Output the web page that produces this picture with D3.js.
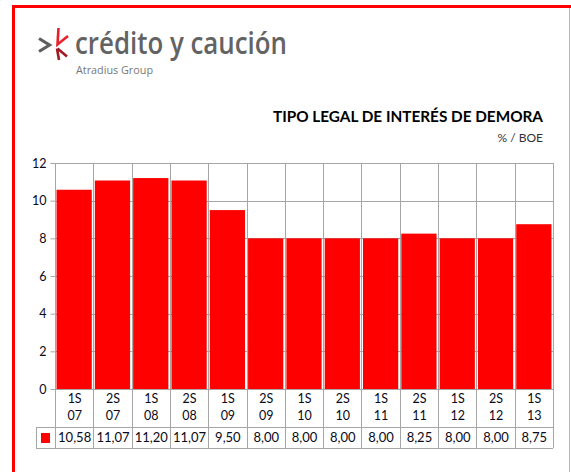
<!DOCTYPE html>
<html><head><meta charset="utf-8">
<script src="https://cdn.jsdelivr.net/npm/d3@7"></script>
<style>html,body{margin:0;padding:0;background:#fff;overflow:hidden}svg{display:block}</style>
</head><body>
<script>
const categories = ["1S 07","2S 07","1S 08","2S 08","1S 09","2S 09","1S 10","2S 10","1S 11","2S 11","1S 12","2S 12","1S 13"];
const values = [10.58, 11.07, 11.20, 11.07, 9.50, 8.00, 8.00, 8.00, 8.00, 8.25, 8.00, 8.00, 8.75];
const yTicks = [0, 2, 4, 6, 8, 10, 12];
const title = "TIPO LEGAL DE INTERÉS DE DEMORA";
const subtitle = "% / BOE";

(function () {
const W = 571, H = 472;
const font = "Lato, 'Open Sans', sans-serif";
const svg = d3.select("body").append("svg").attr("width", W).attr("height", H);

// frame
svg.append("line").attr("x1", 13.5).attr("x2", 13.5).attr("y1", 5).attr("y2", H).attr("stroke", "#ff0000").attr("stroke-width", 3);
svg.append("line").attr("x1", 12).attr("x2", 571).attr("y1", 6.5).attr("y2", 6.5).attr("stroke", "#ff0000").attr("stroke-width", 3);
svg.append("line").attr("x1", 569.5).attr("x2", 569.5).attr("y1", 8).attr("y2", H).attr("stroke", "#ff9a9a").attr("stroke-width", 1);

// logo
const logo = svg.append("g");
logo.append("path").attr("d", "M39,38.5 L49.5,45 L39,51.5").attr("fill", "none").attr("stroke", "#5f5f5f").attr("stroke-width", 3.2);
logo.append("path").attr("d", "M58.5,28 L57.5,44.5 L68,36").attr("fill", "none").attr("stroke", "#e8202a").attr("stroke-width", 2.6);
logo.append("path").attr("d", "M57,48.5 L59,60 M57.5,48.5 L67,56.5").attr("fill", "none").attr("stroke", "#a01a24").attr("stroke-width", 2.6);
logo.append("text").attr("x", 75).attr("y", 54).attr("font-family", "'Open Sans', sans-serif").attr("font-size", 31)
  .attr("font-weight", 600).attr("fill", "#636363").attr("textLength", 212).attr("lengthAdjust", "spacingAndGlyphs").text("crédito y caución");
logo.append("text").attr("x", 76).attr("y", 74).attr("font-family", "'Open Sans', sans-serif").attr("font-size", 11.5)
  .attr("fill", "#777").attr("textLength", 77).attr("lengthAdjust", "spacingAndGlyphs").text("Atradius Group");

// titles
svg.append("text").attr("x", 543).attr("y", 122).attr("text-anchor", "end").attr("font-family", font)
  .attr("font-weight", "bold").attr("font-size", 14.5).attr("fill", "#000")
  .attr("textLength", 270).attr("lengthAdjust", "spacingAndGlyphs").text(title);
svg.append("text").attr("x", 543).attr("y", 142).attr("text-anchor", "end").attr("font-family", font)
  .attr("font-size", 12).attr("fill", "#333").text(subtitle);

// scales
const pL = 55, pR = 553, pT = 163, pB = 389;
const xGrid = d3.scaleBand().domain(categories).range([pL, pR]).padding(0);
const x = d3.scaleBand().domain(categories).range([pL, pR]).paddingInner(0.08).paddingOuter(0.04);
const y = d3.scaleLinear().domain([0, 12]).range([pB, pT]);
const grid = "#a6a6a6";

// horizontal gridlines
svg.append("g").selectAll("line").data(yTicks).join("line")
  .attr("x1", pL).attr("x2", pR).attr("y1", d => Math.round(y(d)) + 0.5).attr("y2", d => Math.round(y(d)) + 0.5)
  .attr("stroke", grid).attr("stroke-width", 1);

// vertical gridlines (category boundaries), extend through table
const rowLabelBottom = 427, tableBottom = 448, legendLeft = 36;
const bounds = categories.map(c => xGrid(c)).concat([pR]);
svg.append("g").selectAll("line").data(bounds).join("line")
  .attr("x1", d => Math.round(d) + 0.5).attr("x2", d => Math.round(d) + 0.5)
  .attr("y1", pT).attr("y2", tableBottom).attr("stroke", grid).attr("stroke-width", 1);

// bars
svg.append("g").selectAll("rect").data(values).join("rect")
  .attr("x", (d, i) => x(categories[i])).attr("width", x.bandwidth())
  .attr("y", d => y(d)).attr("height", d => y(0) - y(d)).attr("fill", "#ff0000");

// y axis
const yAxis = d3.axisLeft(y).tickValues(yTicks).tickSize(5).tickPadding(4).tickFormat(d3.format("d"));
const ga = svg.append("g").attr("transform", `translate(${pL + 0.5},0)`).call(yAxis);
ga.select(".domain").attr("stroke", grid).attr("d", `M0,${pT}V${pB + 0.5}`);
ga.selectAll(".tick line").attr("stroke", grid);
ga.selectAll(".tick text").attr("font-family", font).attr("font-size", 12.5).attr("fill", "#0a0a1a");

// table lines
svg.append("line").attr("x1", legendLeft).attr("x2", pR).attr("y1", rowLabelBottom + 0.5).attr("y2", rowLabelBottom + 0.5).attr("stroke", grid);
svg.append("line").attr("x1", legendLeft).attr("x2", pR).attr("y1", tableBottom + 0.5).attr("y2", tableBottom + 0.5).attr("stroke", grid);
svg.append("line").attr("x1", legendLeft + 0.5).attr("x2", legendLeft + 0.5).attr("y1", rowLabelBottom).attr("y2", tableBottom + 1).attr("stroke", grid);
svg.append("rect").attr("x", 41).attr("y", 433).attr("width", 9).attr("height", 10).attr("fill", "#ff0000");

// category labels
const catG = svg.append("g").attr("font-family", font).attr("font-size", 12.5).attr("fill", "#0a0a1a").attr("text-anchor", "middle");
categories.forEach(c => {
  const [a, b] = c.split(" ");
  const cx = xGrid(c) + xGrid.bandwidth() / 2 + 0.5;
  catG.append("text").attr("x", cx).attr("y", 403).text(a);
  catG.append("text").attr("x", cx).attr("y", 420).text(b);
});

// value labels
const fmt = v => d3.format(".2f")(v).replace(".", ",");
svg.append("g").selectAll("text").data(values).join("text")
  .attr("x", (d, i) => xGrid(categories[i]) + xGrid.bandwidth() / 2 + 0.5).attr("y", 442)
  .attr("text-anchor", "middle").attr("font-family", font).attr("font-size", 13).attr("fill", "#0a0a1a")
  .text(d => fmt(d));
})();
</script>
</body></html>
